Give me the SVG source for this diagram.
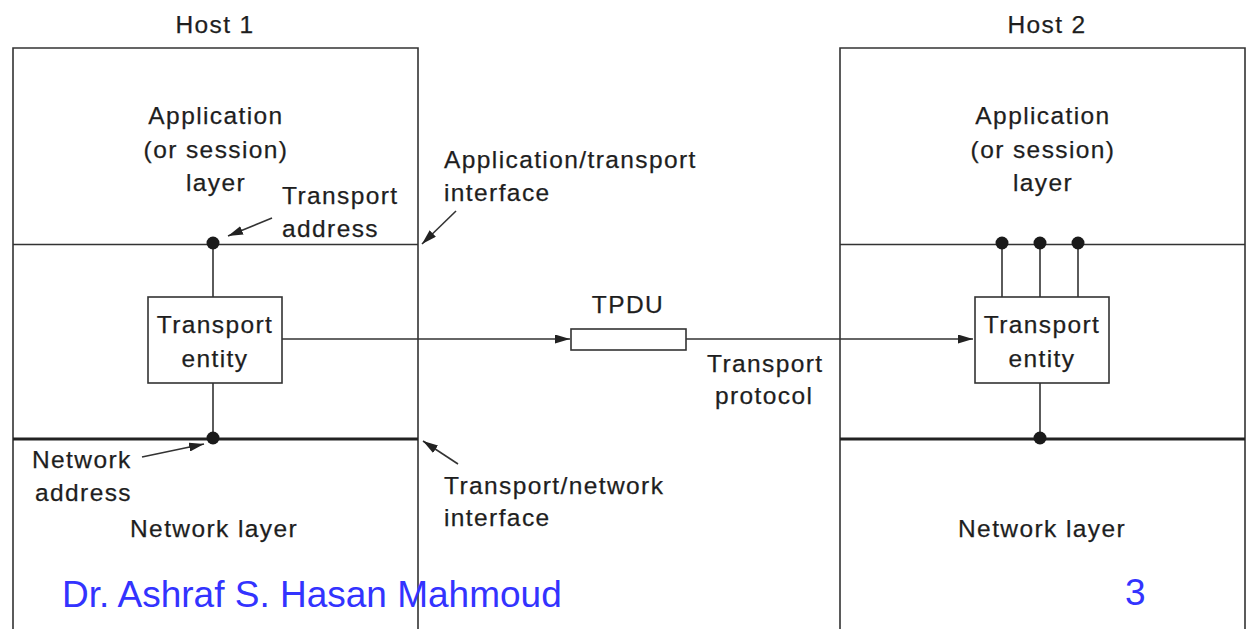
<svg xmlns="http://www.w3.org/2000/svg" width="1247" height="629" viewBox="0 0 1247 629">
<style>
.t{font-family:"Liberation Sans",Arial,sans-serif;font-size:24.5px;letter-spacing:1.4px;fill:#1e1e1e;stroke:#1e1e1e;stroke-width:0.25}
.m{text-anchor:middle}
.ln{stroke:#333;stroke-width:1.6;fill:none}
.thick{stroke:#222;stroke-width:3;fill:none}
.box{stroke:#333;stroke-width:1.6;fill:#fff}
.dot{fill:#1a1a1a}
.blue{font-family:"Liberation Sans",Arial,sans-serif;font-size:37px;fill:#3333ff}
</style>
<defs>
<marker id="ah" viewBox="0 0 15 9" refX="15" refY="4.5" markerWidth="15" markerHeight="9" markerUnits="userSpaceOnUse" orient="auto">
<path d="M0,0 L15,4.5 L0,9 Z" fill="#222"/>
</marker>
</defs>
<rect width="1247" height="629" fill="#fff"/>

<g id="host1">
<text class="t m" x="215" y="33">Host 1</text>
<path class="ln" d="M13,640 V48 H418 V640"/>
<line class="ln" x1="13" y1="244.5" x2="418" y2="244.5"/>
<line class="thick" x1="13" y1="439" x2="418" y2="439"/>
<text class="t m" x="216" y="124">Application</text>
<text class="t m" x="216" y="158">(or session)</text>
<text class="t m" x="216" y="191">layer</text>
<text class="t m" x="214" y="537">Network layer</text>
</g>

<g id="host2">
<text class="t m" x="1047" y="33">Host 2</text>
<path class="ln" d="M840,640 V48 H1245 V640"/>
<line class="ln" x1="840" y1="244.5" x2="1245" y2="244.5"/>
<line class="thick" x1="840" y1="439" x2="1245" y2="439"/>
<text class="t m" x="1043" y="124">Application</text>
<text class="t m" x="1043" y="158">(or session)</text>
<text class="t m" x="1043" y="191">layer</text>
<text class="t m" x="1042" y="537">Network layer</text>
</g>

<g id="entity1">
<rect class="box" x="148" y="297" width="134" height="86"/>
<text class="t m" x="215" y="333">Transport</text>
<text class="t m" x="215" y="367">entity</text>
</g>

<g id="entity2">
<rect class="box" x="975" y="297" width="134" height="86"/>
<text class="t m" x="1042" y="333">Transport</text>
<text class="t m" x="1042" y="367">entity</text>
</g>

<g id="tpdu">
<rect class="box" x="571" y="329" width="115" height="21"/>
<text class="t m" x="628" y="313">TPDU</text>
</g>

<g id="labels">
<text class="t" x="282" y="204">Transport</text>
<text class="t" x="282" y="237">address</text>
<text class="t" x="444" y="168">Application/transport</text>
<text class="t" x="444" y="201">interface</text>
<text class="t" x="707" y="372">Transport</text>
<text class="t" x="715" y="404">protocol</text>
<text class="t" x="32" y="468">Network</text>
<text class="t" x="35" y="501">address</text>
<text class="t" x="444" y="494">Transport/network</text>
<text class="t" x="444" y="526">interface</text>
</g>

<g id="connectors">
<line class="ln" x1="213" y1="244" x2="213" y2="297"/>
<line class="ln" x1="213" y1="383" x2="213" y2="439"/>
<line class="ln" x1="1002" y1="244" x2="1002" y2="297"/>
<line class="ln" x1="1040" y1="244" x2="1040" y2="297"/>
<line class="ln" x1="1078" y1="244" x2="1078" y2="297"/>
<line class="ln" x1="1040" y1="383" x2="1040" y2="439"/>
<line class="ln" x1="282" y1="339" x2="570" y2="339" marker-end="url(#ah)"/>
<line class="ln" x1="686" y1="339" x2="973" y2="339" marker-end="url(#ah)"/>
<line class="ln" x1="272" y1="218" x2="228" y2="236" marker-end="url(#ah)"/>
<line class="ln" x1="456" y1="211" x2="422" y2="244" marker-end="url(#ah)"/>
<line class="ln" x1="142" y1="457" x2="204" y2="444" marker-end="url(#ah)"/>
<line class="ln" x1="458" y1="464" x2="423" y2="441" marker-end="url(#ah)"/>
<circle class="dot" cx="213" cy="243" r="6.5"/>
<circle class="dot" cx="213" cy="438" r="6.5"/>
<circle class="dot" cx="1002" cy="243" r="6.5"/>
<circle class="dot" cx="1040" cy="243" r="6.5"/>
<circle class="dot" cx="1078" cy="243" r="6.5"/>
<circle class="dot" cx="1040" cy="438" r="6.5"/>
</g>

<g id="footer">
<text class="blue" x="62" y="607">Dr. Ashraf S. Hasan Mahmoud</text>
<text class="blue" x="1125" y="605">3</text>
</g>
</svg>
